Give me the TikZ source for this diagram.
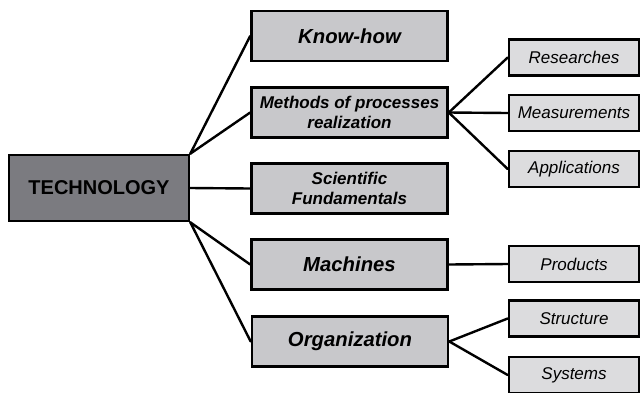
\documentclass[tikz,border=0pt]{standalone}
\usepackage{fontspec}
\setmainfont{Liberation Sans}
\begin{document}
\begin{tikzpicture}[x=1pt,y=-1pt,
  box/.style={draw=black,line width=2.6pt,rectangle,inner sep=0pt,align=center},
  rootbox/.style={box,fill=techgray,minimum width=180pt,minimum height=66pt,font=\bfseries\fontsize{20}{22}\selectfont},
  midbox/.style={box,fill=midgray,minimum width=196pt,minimum height=50pt},
  bigtxt/.style={font=\bfseries\itshape\fontsize{20.3}{22}\selectfont},
  smalltxt/.style={font=\bfseries\itshape\fontsize{17}{19.5}\selectfont},
  leafbox/.style={box,fill=leafgray,minimum width=130pt,minimum height=36pt,font=\itshape\fontsize{17}{19}\selectfont},
  conn/.style={line width=2.4pt,line cap=round}]
\definecolor{techgray}{RGB}{123,123,128}
\definecolor{midgray}{RGB}{200,200,203}
\definecolor{leafgray}{RGB}{220,220,222}
\useasboundingbox (0,0) rectangle (643,392);
\fill[white] (0,0) rectangle (643,392);

\node[rootbox] (tech) at (99,188) {TECHNOLOGY};

\node[midbox,bigtxt] (know) at (349.5,36) {Know-how};
\node[midbox,smalltxt] (meth) at (349.5,112.5) {Methods of processes\\realization};
\node[midbox,smalltxt] (sci) at (349.5,188.5) {Scientific\\Fundamentals};
\node[midbox,bigtxt] (mach) at (349.5,264.5) {Machines};
\node[midbox,bigtxt] (org) at (350,341.5) {Organization};

\node[leafbox] (res) at (574,57.5) {Researches};
\node[leafbox] (meas) at (574,113) {Measurements};
\node[leafbox] (app) at (574,169) {Applications};
\node[leafbox] (prod) at (574,264) {Products};
\node[leafbox] (str) at (574,318.5) {Structure};
\node[leafbox] (sys) at (574,375) {Systems};

\draw[conn] (tech.north east) -- (know.west);
\draw[conn] (tech.north east) -- (meth.west);
\draw[conn] (tech.east) -- (sci.west);
\draw[conn] (tech.south east) -- (mach.west);
\draw[conn] (tech.south east) -- (org.west);

\draw[conn] (meth.east) -- (res.west);
\draw[conn] (meth.east) -- (meas.west);
\draw[conn] (meth.east) -- (app.west);
\draw[conn] (mach.east) -- (prod.west);
\draw[conn] (org.east) -- (str.west);
\draw[conn] (org.east) -- (sys.west);
\end{tikzpicture}
\end{document}
